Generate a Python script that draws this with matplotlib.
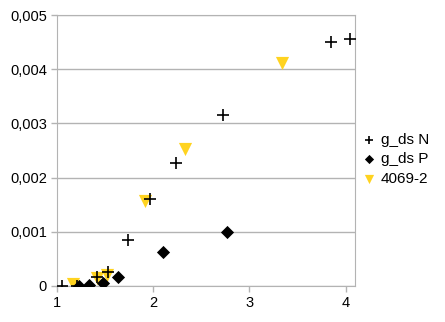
import matplotlib

matplotlib.use("Agg")
import matplotlib.pyplot as plt
from matplotlib.ticker import FuncFormatter, MultipleLocator

plt.rcParams["font.family"] = ["Liberation Sans", "DejaVu Sans"]

# g_ds N (plus markers)
n_x = [1.05, 1.20, 1.41, 1.53, 1.73, 1.96, 2.23, 2.72, 3.85, 4.05]
n_y = [0.0, 0.0, 0.00017, 0.00026, 0.00085, 0.0016, 0.00227, 0.00316, 0.0045, 0.00456]

# g_ds P (diamonds)
p_x = [1.22, 1.33, 1.47, 1.63, 2.10, 2.77]
p_y = [0.0, 0.00001, 0.00005, 0.00016, 0.00063, 0.00099]

# 4069-2 (yellow triangles)
t_x = [1.16, 1.41, 1.52, 1.91, 2.33, 3.34]
t_y = [0.00003, 0.00015, 0.0002, 0.00157, 0.00252, 0.00412]

grey = "#b3b3b3"
yellow = "#ffd320"

fig = plt.figure(figsize=(4.45, 3.22), dpi=100)
ax = fig.add_axes([0.129, 0.112, 0.669, 0.841])

ax.scatter(n_x, n_y, marker="+", s=80, c="black", linewidths=1.2, label="g_ds N", zorder=3)
ax.scatter(p_x, p_y, marker="D", s=45, c="black", linewidths=0, label="g_ds P", zorder=3)
ax.scatter(t_x, t_y, marker="v", s=90, c=yellow, linewidths=0, label="4069-2", zorder=2)

ax.set_xlim(1, 4.1)
ax.set_ylim(0, 0.005)
ax.xaxis.set_major_locator(MultipleLocator(1))
ax.yaxis.set_major_locator(MultipleLocator(0.001))
ax.yaxis.set_major_formatter(
    FuncFormatter(lambda v, _: "0" if abs(v) < 1e-12 else f"{v:.3f}".replace(".", ","))
)
ax.grid(axis="y", color=grey, linewidth=1)
ax.set_axisbelow(True)
for side in ax.spines.values():
    side.set_color(grey)
ax.tick_params(colors=grey, labelcolor="black", labelsize=10.5, length=4, width=1)

ax.legend(
    loc="center left",
    bbox_to_anchor=(1.0, 0.467),
    frameon=False,
    fontsize=11,
    handlelength=1,
    handletextpad=0.3,
    labelspacing=0.35,
    markerscale=0.7,
    borderpad=0.2,
    borderaxespad=0.2,
)

fig.savefig("out.png", dpi=100)
